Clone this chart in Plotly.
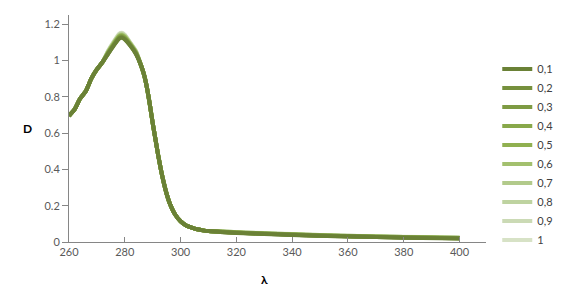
import plotly.graph_objects as go

# wavelength grid (nm)
lam = [260, 262, 264, 266, 268, 270, 272, 274, 276, 278, 279, 280, 282, 284,
       286, 287, 288, 289, 290, 291, 292, 293, 294, 295, 296, 298, 300, 302,
       304, 306, 308, 310, 315, 320, 330, 340, 350, 360, 380, 400]

_rise = [0.695, 0.73, 0.79, 0.83, 0.90, 0.95, 0.99]
_fall = [0.965, 0.915, 0.845, 0.755, 0.655, 0.565, 0.475, 0.395, 0.325, 0.265, 0.218,
         0.153, 0.114, 0.091, 0.079, 0.070, 0.064, 0.060]

s01 = _rise + [1.035, 1.080, 1.120, 1.125, 1.115, 1.080, 1.035] + _fall + [0.054, 0.050, 0.044, 0.039, 0.034, 0.030, 0.024, 0.019]
s02 = _rise + [1.037, 1.083, 1.123, 1.128, 1.118, 1.082, 1.037] + _fall + [0.055, 0.051, 0.045, 0.040, 0.035, 0.031, 0.025, 0.020]
s03 = _rise + [1.039, 1.085, 1.126, 1.131, 1.121, 1.084, 1.039] + _fall + [0.055, 0.051, 0.045, 0.040, 0.035, 0.031, 0.025, 0.020]
s04 = _rise + [1.041, 1.088, 1.129, 1.134, 1.124, 1.086, 1.041] + _fall + [0.056, 0.052, 0.046, 0.041, 0.036, 0.032, 0.026, 0.021]
s05 = _rise + [1.043, 1.090, 1.132, 1.137, 1.127, 1.088, 1.043] + _fall + [0.056, 0.052, 0.046, 0.041, 0.036, 0.032, 0.026, 0.022]
s06 = _rise + [1.045, 1.093, 1.135, 1.140, 1.130, 1.090, 1.045] + _fall + [0.057, 0.053, 0.047, 0.042, 0.037, 0.033, 0.027, 0.022]
s07 = _rise + [1.047, 1.095, 1.138, 1.143, 1.133, 1.092, 1.047] + _fall + [0.057, 0.053, 0.047, 0.042, 0.037, 0.033, 0.027, 0.023]
s08 = _rise + [1.049, 1.098, 1.141, 1.146, 1.136, 1.094, 1.049] + _fall + [0.058, 0.054, 0.048, 0.043, 0.038, 0.034, 0.028, 0.023]
s09 = _rise + [1.051, 1.100, 1.144, 1.149, 1.139, 1.096, 1.051] + _fall + [0.058, 0.054, 0.048, 0.043, 0.038, 0.034, 0.028, 0.024]
s10 = _rise + [1.053, 1.103, 1.147, 1.152, 1.142, 1.098, 1.053] + _fall + [0.059, 0.055, 0.049, 0.044, 0.039, 0.035, 0.029, 0.025]

names = ["0,1", "0,2", "0,3", "0,4", "0,5", "0,6", "0,7", "0,8", "0,9", "1"]
series = [s01, s02, s03, s04, s05, s06, s07, s08, s09, s10]
colors = ["#6a8136", "#76903d", "#7e9b43", "#88a84a", "#90b050",
          "#a3c06e", "#b2ca8b", "#bed3a0", "#cbdab5", "#d7e2c6"]

x_ticks = [260, 280, 300, 320, 340, 360, 380, 400]
y_ticks = [0, 0.2, 0.4, 0.6, 0.8, 1, 1.2]
y_tick_text = ["0", "0.2", "0.4", "0.6", "0.8", "1", "1.2"]

fig = go.Figure()
# draw lightest first so the darkest series sits on top
for name, ys, col in reversed(list(zip(names, series, colors))):
    fig.add_trace(go.Scatter(x=lam, y=ys, mode="lines", name=name,
                             line=dict(color=col, width=4, shape="spline", smoothing=0.6)))

axis_col = "#868686"
fig.update_layout(
    width=566, height=308,
    margin=dict(l=69, r=80, t=15, b=66, autoexpand=False),
    paper_bgcolor="white", plot_bgcolor="white",
    font=dict(family="Lato, Carlito, sans-serif", size=11, color="#595959"),
    xaxis=dict(range=[260, 409.5], tickvals=x_ticks, showgrid=False, zeroline=False,
               showline=True, linecolor=axis_col, linewidth=1,
               ticks="inside", ticklen=5, tickcolor=axis_col),
    yaxis=dict(range=[0, 1.25], tickvals=y_ticks, ticktext=y_tick_text, showgrid=False,
               zeroline=False, showline=True, linecolor=axis_col, linewidth=1,
               ticks="outside", ticklen=6, tickcolor=axis_col),
    legend=dict(traceorder="reversed", xref="paper", yref="paper",
                x=1.027, y=0.385, xanchor="left", yanchor="middle",
                font=dict(size=11, color="#404040"), bgcolor="rgba(0,0,0,0)"),
    showlegend=True,
    annotations=[
        dict(text="<b>D</b>", xref="paper", yref="paper", x=-0.1, y=0.5,
             showarrow=False, font=dict(size=12, color="#000000"), xanchor="center", yanchor="middle"),
        dict(text="<b>λ</b>", xref="x", yref="paper", x=330, y=-0.163,
             showarrow=False, font=dict(size=12, color="#000000"), xanchor="center", yanchor="middle"),
    ],
)

fig.write_html("out.html")
